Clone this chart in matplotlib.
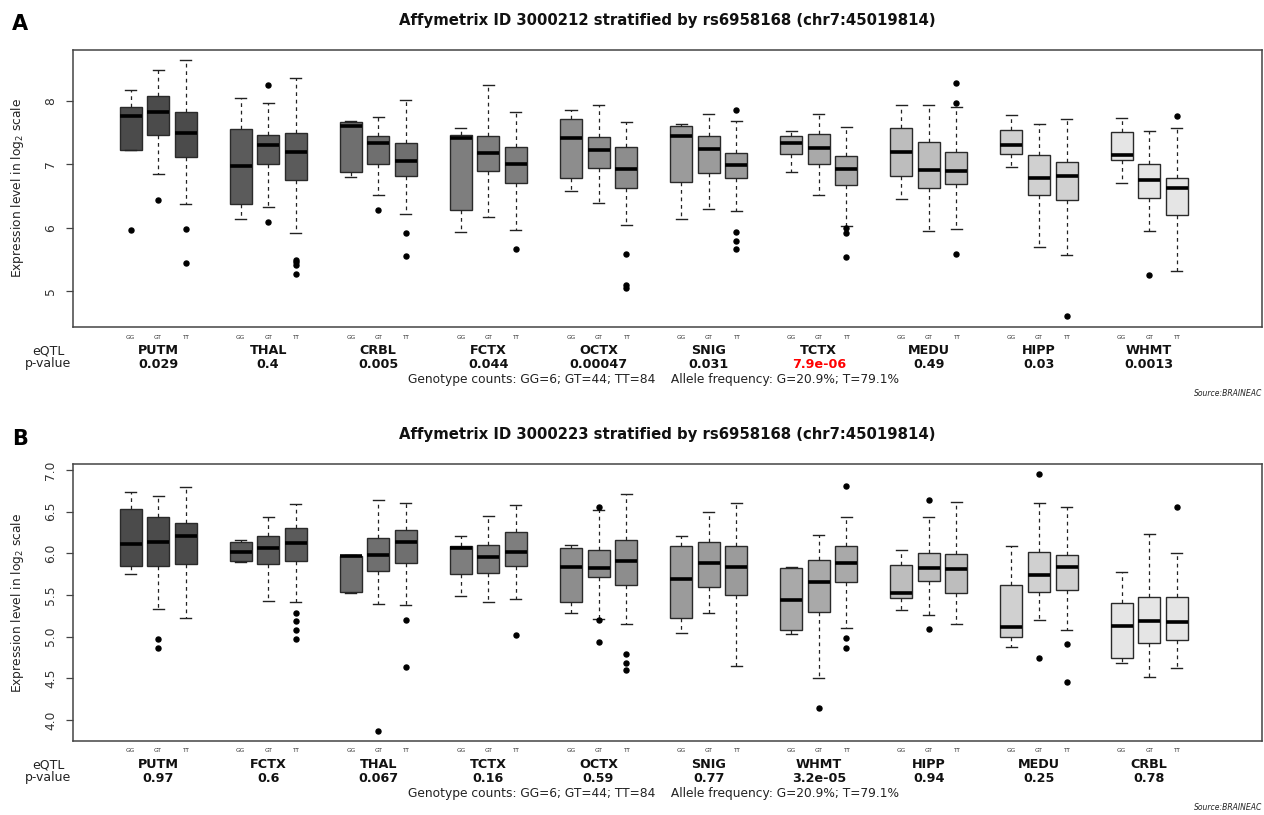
import matplotlib
matplotlib.use("Agg")
import matplotlib.pyplot as plt
from matplotlib.transforms import blended_transform_factory

# ---------------- data ----------------
genotypes = ["GG", "GT", "TT"]

# Panel A
title_a = "Affymetrix ID 3000212 stratified by rs6958168 (chr7:45019814)"
tissues_a = ["PUTM", "THAL", "CRBL", "FCTX", "OCTX", "SNIG", "TCTX", "MEDU", "HIPP", "WHMT"]
pvals_a = ["0.029", "0.4", "0.005", "0.044", "0.00047", "0.031", "7.9e-06", "0.49", "0.03", "0.0013"]
whislo_a = [7.23, 6.84, 6.37, 6.14, 6.33, 5.92, 6.80, 6.52, 6.22, 5.93, 6.17, 5.97,
            6.58, 6.39, 6.04, 6.13, 6.30, 6.26, 6.88, 6.52, 6.03, 6.45, 5.94, 5.98,
            6.96, 5.70, 5.57, 6.71, 5.94, 5.32]
q1_a = [7.23, 7.47, 7.12, 6.38, 7.00, 6.76, 6.88, 7.01, 6.81, 6.28, 6.90, 6.70,
        6.78, 6.94, 6.63, 6.72, 6.87, 6.78, 7.16, 7.01, 6.67, 6.81, 6.63, 6.69,
        7.16, 6.52, 6.43, 7.07, 6.47, 6.20]
med_a = [7.76, 7.82, 7.49, 6.97, 7.30, 7.19, 7.61, 7.34, 7.06, 7.42, 7.18, 7.01,
         7.41, 7.23, 6.92, 7.45, 7.24, 6.99, 7.33, 7.26, 6.92, 7.20, 6.91, 6.89,
         7.30, 6.78, 6.81, 7.15, 6.75, 6.62]
q3_a = [7.90, 8.08, 7.83, 7.55, 7.47, 7.50, 7.67, 7.45, 7.34, 7.46, 7.45, 7.28,
        7.72, 7.43, 7.27, 7.60, 7.45, 7.18, 7.45, 7.48, 7.13, 7.58, 7.36, 7.20,
        7.54, 7.15, 7.04, 7.51, 7.00, 6.79]
whishi_a = [8.17, 8.49, 8.64, 8.04, 7.97, 8.37, 7.68, 7.75, 8.02, 7.58, 8.25, 7.83,
            7.86, 7.94, 7.67, 7.63, 7.79, 7.68, 7.52, 7.79, 7.59, 7.94, 7.93, 7.90,
            7.78, 7.64, 7.72, 7.73, 7.52, 7.57]
fliers_a = [[5.96], [6.43], [5.98, 5.44], [], [8.25, 6.09], [5.49, 5.45, 5.41, 5.27],
            [], [6.28], [5.91, 5.55], [], [], [5.66],
            [], [], [5.58, 5.09, 5.05], [], [], [7.86, 5.93, 5.79, 5.67],
            [], [], [5.99, 5.92, 5.53], [], [], [8.28, 7.97, 5.58],
            [], [], [4.60], [], [5.25], [7.76]]

# Panel B
title_b = "Affymetrix ID 3000223 stratified by rs6958168 (chr7:45019814)"
tissues_b = ["PUTM", "FCTX", "THAL", "TCTX", "OCTX", "SNIG", "WHMT", "HIPP", "MEDU", "CRBL"]
pvals_b = ["0.97", "0.6", "0.067", "0.16", "0.59", "0.77", "3.2e-05", "0.94", "0.25", "0.78"]
whislo_b = [5.75, 5.33, 5.22, 5.89, 5.43, 5.42, 5.52, 5.39, 5.38, 5.49, 5.41, 5.45,
            5.28, 5.21, 5.15, 5.04, 5.29, 4.65, 5.03, 4.51, 5.10, 5.32, 5.26, 5.15,
            4.88, 5.20, 5.08, 4.68, 4.52, 4.63]
q1_b = [5.85, 5.85, 5.87, 5.91, 5.87, 5.91, 5.53, 5.79, 5.88, 5.75, 5.76, 5.85,
        5.42, 5.71, 5.62, 5.23, 5.59, 5.50, 5.08, 5.30, 5.66, 5.46, 5.67, 5.52,
        5.00, 5.54, 5.56, 4.75, 4.93, 4.96]
med_b = [6.11, 6.14, 6.21, 6.02, 6.06, 6.12, 5.97, 5.98, 6.14, 6.06, 5.96, 6.01,
         5.83, 5.82, 5.91, 5.69, 5.88, 5.83, 5.44, 5.66, 5.88, 5.52, 5.82, 5.81,
         5.12, 5.74, 5.83, 5.13, 5.19, 5.18]
q3_b = [6.53, 6.43, 6.36, 6.13, 6.21, 6.30, 5.97, 6.18, 6.28, 6.09, 6.10, 6.25,
        6.06, 6.04, 6.16, 6.09, 6.13, 6.09, 5.82, 5.92, 6.09, 5.86, 6.00, 5.99,
        5.62, 6.02, 5.98, 5.40, 5.47, 5.48]
whishi_b = [6.73, 6.69, 6.79, 6.16, 6.44, 6.59, 5.98, 6.64, 6.60, 6.21, 6.45, 6.58,
            6.10, 6.52, 6.71, 6.21, 6.50, 6.60, 5.83, 6.22, 6.44, 6.04, 6.44, 6.62,
            6.09, 6.60, 6.56, 5.78, 6.23, 6.00]
fliers_b = [[], [4.97, 4.87], [], [], [], [5.29, 5.19, 5.08, 4.97],
            [], [3.87], [5.20, 4.64], [], [], [5.02],
            [], [6.56, 5.20, 4.94], [4.79, 4.69, 4.60], [], [], [],
            [], [4.15], [6.81, 4.99, 4.86], [], [6.64, 5.09], [],
            [], [6.95, 4.75], [4.91, 4.46], [], [], [6.55]]

genotype_line = "Genotype counts: GG=6; GT=44; TT=84    Allele frequency: G=20.9%; T=79.1%"
source_text = "Source:BRAINEAC"

# ---------------- style ----------------
W, H = 1264, 815
group_colors = ['#4b4b4b', '#5b5b5b', '#6f6f6f', '#7e7e7e', '#8d8d8d',
                '#9b9b9b', '#a9a9a9', '#bdbdbd', '#d0d0d0', '#e5e5e5']

plt.rcParams['font.family'] = ['DejaVu Sans']
fig = plt.figure(figsize=(W / 100, H / 100), dpi=100)


def fx(x):
    return x / W


def fy(y):
    return 1 - y / H


positions = [g * 4 + k + 1 for g in range(10) for k in range(3)]


def panel(top_px, bot_px, letter, letter_y, title, title_y, tissues, pvals,
          wlo, q1, med, q3, whi, fliers, ylim, yticks, yticklabels,
          geno_y, name_y, p_y, line_y, src_y, red_idx=None):
    left, right = 72.7, 1262
    ax = fig.add_axes([fx(left), fy(bot_px), (right - left) / W, (bot_px - top_px) / H])
    stats = []
    for i in range(30):
        stats.append(dict(whislo=wlo[i], q1=q1[i], med=med[i], q3=q3[i],
                          whishi=whi[i], fliers=fliers[i]))
    bp = ax.bxp(stats, positions=positions, widths=0.8, capwidths=0.4,
                patch_artist=True, manage_ticks=False,
                boxprops=dict(edgecolor='#2a2a2a', linewidth=1.0),
                medianprops=dict(color='black', linewidth=2.6, solid_capstyle='butt'),
                whiskerprops=dict(color='#222222', linewidth=0.9, linestyle=(0, (3, 3))),
                capprops=dict(color='#222222', linewidth=1.0),
                flierprops=dict(marker='o', markerfacecolor='black',
                                markeredgecolor='black', markersize=3.6, linestyle='none'))
    for i, patch in enumerate(bp['boxes']):
        patch.set_facecolor(group_colors[i // 3])
    ax.set_xlim(-1.1, 42.1)
    ax.set_ylim(*ylim)
    ax.set_xticks([])
    ax.set_yticks(yticks)
    ax.set_yticklabels(yticklabels, rotation=90, va='center', fontsize=8.8, color='#333333')
    ax.tick_params(axis='y', length=5, width=0.9, color='#444444', pad=6)
    for s in ax.spines.values():
        s.set_color('#444444')
        s.set_linewidth(1.1)

    tr = blended_transform_factory(ax.transData, fig.transFigure)
    for i, p in enumerate(positions):
        ax.text(p, fy(geno_y), genotypes[i % 3], transform=tr, ha='center', va='center',
                fontsize=4.2, color='#333333')
    for g in range(10):
        c = g * 4 + 2
        ax.text(c, fy(name_y), tissues[g], transform=tr, ha='center', va='center',
                fontsize=9.2, fontweight='bold', color='#111111')
        col = 'red' if g == red_idx else '#111111'
        ax.text(c, fy(p_y), pvals[g], transform=tr, ha='center', va='center',
                fontsize=9.2, fontweight='bold', color=col)

    fig.text(fx(48), fy(name_y), "eQTL", ha='center', va='center', fontsize=9, color='#222222')
    fig.text(fx(48), fy(p_y), "p-value", ha='center', va='center', fontsize=9, color='#222222')
    fig.text(fx(653), fy(line_y), genotype_line, ha='center', va='center', fontsize=8.8,
             color='#222222')
    fig.text(fx(1262), fy(src_y), source_text, ha='right', va='center', fontsize=5.5,
             style='italic', color='#222222')
    fig.text(fx(667), fy(title_y), title, ha='center', va='center', fontsize=10.7,
             fontweight='bold', color='#111111')
    fig.text(fx(12), fy(letter_y), letter, ha='left', va='center', fontsize=15,
             fontweight='bold', color='black')
    fig.text(fx(18), fy((top_px + bot_px) / 2), r"Expression level in log$_2$ scale",
             rotation=90, ha='center', va='center', fontsize=8.8, color='#222222')
    return ax


panel(50, 326.7, "A", 24, title_a, 20, tissues_a, pvals_a,
      whislo_a, q1_a, med_a, q3_a, whishi_a, fliers_a,
      (4.436, 8.805), [5, 6, 7, 8], ["5", "6", "7", "8"],
      337, 351, 364, 379, 394, red_idx=6)

panel(464.3, 740.7, "B", 439, title_b, 434, tissues_b, pvals_b,
      whislo_b, q1_b, med_b, q3_b, whishi_b, fliers_b,
      (3.752, 7.068), [4.0, 4.5, 5.0, 5.5, 6.0, 6.5, 7.0],
      ["4.0", "4.5", "5.0", "5.5", "6.0", "6.5", "7.0"],
      750, 765, 778, 794, 808)

fig.savefig("out.png", dpi=100)
